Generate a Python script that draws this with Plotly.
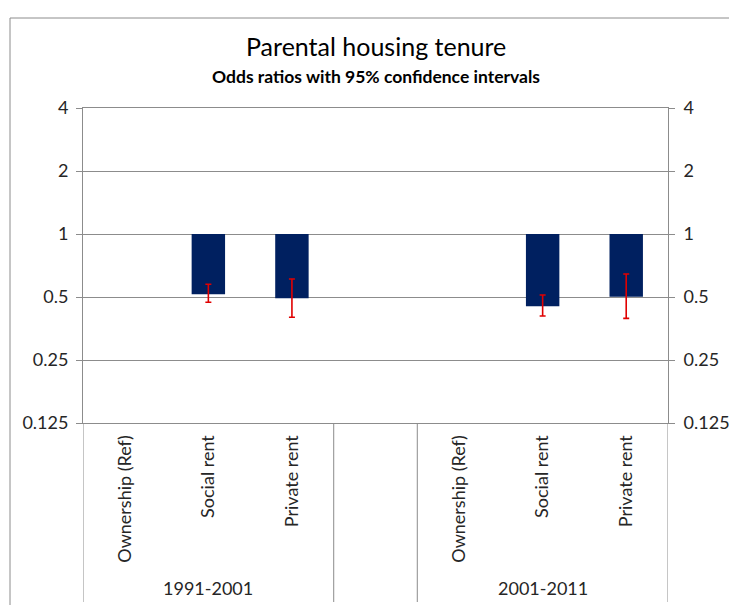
import plotly.graph_objects as go
import math

# ---- data ----
periods = ["1991-2001", "2001-2011"]
categories = ["Ownership (Ref)", "Social rent", "Private rent"]
odds_1991 = [1.0, 0.515, 0.493]
lower_1991 = [None, 0.472, 0.400]
upper_1991 = [None, 0.575, 0.610]
odds_2001 = [1.0, 0.451, 0.502]
lower_2001 = [None, 0.406, 0.395]
upper_2001 = [None, 0.511, 0.644]
ytick_vals = [0.125, 0.25, 0.5, 1, 2, 4]
ytick_text = ["0.125", "0.25", "0.5", "1", "2", "4"]

odds = [odds_1991, odds_2001]
lowers = [lower_1991, lower_2001]
uppers = [upper_1991, upper_2001]

FONT = "Lato"
GRID = "#8c8c8c"
BAR = "#002060"
ERR = "#e00000"
TXT = "#262626"

W, H = 729, 605
ML, MR, MT, MB = 83, 61, 108, 182
PW = W - ML - MR
PH = H - MT - MB

def py(px):
    return (H - MB - px) / PH

def pxx(px):
    return (px - ML) / PW

fig = go.Figure()

xs, ys, bases, ep, em = [], [], [], [], []
tickvals, ticktext = [], []
for g, per in enumerate(periods):
    for i, cat in enumerate(categories):
        xpos = g * 4 + i
        tickvals.append(xpos)
        ticktext.append(cat)
        v = odds[g][i]
        lo, hi = lowers[g][i], uppers[g][i]
        if lo is None:
            continue
        xs.append(xpos)
        ys.append(v - 1)
        bases.append(1)
        ep.append(hi - v)
        em.append(v - lo)

fig.add_trace(go.Bar(
    x=xs, y=ys, base=bases, width=0.4,
    marker=dict(color=BAR, line=dict(width=0)),
    error_y=dict(type="data", symmetric=False, array=ep, arrayminus=em,
                 color=ERR, thickness=1.6, width=3),
    showlegend=False, hoverinfo="skip",
))
# invisible trace so the secondary (right) axis is rendered
fig.add_trace(go.Scatter(x=[tickvals[0]], y=[odds_1991[0]], yaxis="y2",
                         mode="markers", marker=dict(opacity=0),
                         showlegend=False, hoverinfo="skip"))

yr = [math.log10(0.125), math.log10(4)]

fig.update_layout(
    width=W, height=H,
    margin=dict(l=ML, r=MR, t=MT, b=MB, autoexpand=False),
    paper_bgcolor="white", plot_bgcolor="white",
    font=dict(family=FONT, size=18, color=TXT),
    xaxis=dict(range=[-0.5, 6.5], showgrid=False, zeroline=False,
               showline=True, linecolor=GRID, linewidth=1, mirror=True,
               tickvals=tickvals, ticktext=ticktext, tickangle=-90,
               ticks="", ticklabelstandoff=4, automargin=False,
               tickfont=dict(family=FONT, size=18, color=TXT)),
    yaxis=dict(type="log", range=yr, tickvals=ytick_vals, ticktext=ytick_text,
               showgrid=True, gridcolor=GRID, gridwidth=1, zeroline=False,
               showline=True, linecolor=GRID, linewidth=1,
               ticks="outside", ticklen=6, tickcolor=GRID, tickwidth=1,
               ticklabelstandoff=4, automargin=False,
               tickfont=dict(family=FONT, size=18, color=TXT)),
    yaxis2=dict(type="log", range=yr, tickvals=ytick_vals, ticktext=ytick_text,
                overlaying="y", side="right", showgrid=False, zeroline=False,
                showline=True, linecolor=GRID, linewidth=1,
                ticks="outside", ticklen=6, tickcolor=GRID, tickwidth=1,
                ticklabelstandoff=5, automargin=False,
                tickfont=dict(family=FONT, size=18, color=TXT)),
)

shapes = []
ybot = py(602)
for xv in [-0.5, 2.5, 3.5, 6.5]:
    shapes.append(dict(type="line", xref="x", yref="paper", x0=xv, x1=xv,
                       y0=0, y1=ybot, line=dict(color=GRID, width=1)))
# outer chart frame (left and top edges)
shapes.append(dict(type="line", xref="paper", yref="paper",
                   x0=pxx(10), x1=pxx(10), y0=py(18), y1=py(612),
                   line=dict(color=GRID, width=1)))
shapes.append(dict(type="line", xref="paper", yref="paper",
                   x0=pxx(10), x1=pxx(740), y0=py(18), y1=py(18),
                   line=dict(color=GRID, width=1)))
fig.update_layout(shapes=shapes)

annotations = []
for g, per in enumerate(periods):
    annotations.append(dict(text=per, xref="x", yref="paper", x=g * 4 + 1,
                            y=py(588), showarrow=False, yanchor="middle",
                            font=dict(family=FONT, size=18, color=TXT)))
annotations.append(dict(text="Parental housing tenure", xref="paper", yref="paper",
                        x=0.5, y=py(46), showarrow=False, yanchor="middle",
                        font=dict(family=FONT, size=25, color="#000000")))
annotations.append(dict(text="<b>Odds ratios with 95% confidence intervals</b>",
                        xref="paper", yref="paper", x=0.5, y=py(77),
                        showarrow=False, yanchor="middle",
                        font=dict(family=FONT, size=17.5, color="#000000")))
fig.update_layout(annotations=annotations)

fig.write_html("out.html")
